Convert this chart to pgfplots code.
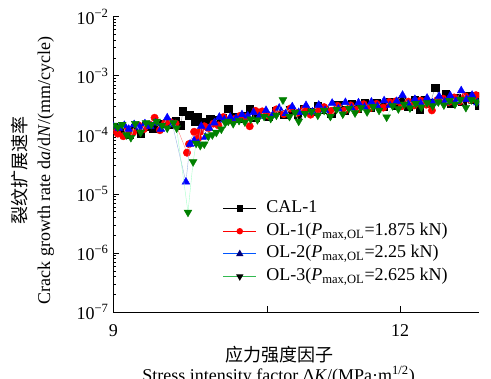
\documentclass[border=0pt]{standalone}
\usepackage{fontspec}
\setmainfont{Liberation Serif}
\newfontfamily\cjk{Noto Sans CJK SC}
\usepackage{pgfplots}
\pgfplotsset{compat=1.18}
\definecolor{cred}{RGB}{255,0,0}
\definecolor{cblue}{RGB}{0,0,255}
\definecolor{cgreen}{RGB}{0,128,0}
\definecolor{lgreen}{RGB}{50,185,80}
\definecolor{lblue}{RGB}{0,85,255}
\definecolor{navy}{RGB}{0,0,120}
\newcommand\fs{\fontsize{13.5pt}{16pt}\selectfont}
\begin{document}
\begin{tikzpicture}
\begin{axis}[
 at={(0,0)}, anchor=south west,
 scale only axis, width=274.3pt, height=221.7pt,
 xmode=log, ymode=log,
 xmin=9, xmax=12.99, ymin=1e-7, ymax=1e-2,
 axis x line*=bottom, axis y line*=left,
 axis line style={line width=0.8pt},
 xtick={9,10.5,12}, xticklabels={9,,12},
 ytick={1e-7,1e-6,1e-5,1e-4,1e-3,1e-2},
 yticklabels={10\textsuperscript{−7},10\textsuperscript{−6},10\textsuperscript{−5},10\textsuperscript{−4},10\textsuperscript{−3},10\textsuperscript{−2}},
 minor ytick={2e-7,3e-7,4e-7,5e-7,6e-7,7e-7,8e-7,9e-7,2e-6,3e-6,4e-6,5e-6,6e-6,7e-6,8e-6,9e-6,2e-5,3e-5,4e-5,5e-5,6e-5,7e-5,8e-5,9e-5,2e-4,3e-4,4e-4,5e-4,6e-4,7e-4,8e-4,9e-4,2e-3,3e-3,4e-3,5e-3,6e-3,7e-3,8e-3,9e-3},
 tick align=inside,
 major tick length=4.5pt, minor tick length=2.2pt,
 tick style={line width=0.6pt, black},
 tick label style={font=\fs},
 xticklabel style={yshift=-6pt},
 clip marker paths=true,
 legend cell align=left,
 legend style={draw=none, fill=none, inner sep=0pt, row sep=0pt, column sep=5pt,
   at={(axis description cs:0.298,0.39)}, anchor=north west,
   font=\fs, nodes={text height=9.5pt, text depth=3.5pt, inner ysep=2pt, inner xsep=2pt}},
 legend image code/.code={\draw[mark repeat=2,mark phase=2,#1] plot coordinates {(0pt,0pt)(12.5pt,0pt)(25pt,0pt)};},
]
\addlegendimage{black, line width=0.8pt, mark=square*, mark size=1.9pt, mark options={fill=black}}
\addlegendentry{CAL-1}
\addlegendimage{cred, line width=0.8pt, mark=*, mark size=2pt, mark options={fill=cred}}
\addlegendentry{OL-1(\textit{P}\textsubscript{max,OL}=1.875 kN)}
\addlegendimage{lblue, line width=0.8pt, mark=triangle*, mark size=2.4pt, mark options={fill=navy, draw=navy}}
\addlegendentry{OL-2(\textit{P}\textsubscript{max,OL}=2.25 kN)}
\addlegendimage{lgreen, line width=0.8pt, mark=triangle*, mark size=2.4pt, mark options={fill=black, draw=black, rotate=180}}
\addlegendentry{OL-3(\textit{P}\textsubscript{max,OL}=2.625 kN)}

\addplot[forget plot, color=black!45, line width=0.3pt, mark=square*, mark size=2.8pt, mark options={solid, fill=black, draw=black}] coordinates {
(9.00,1.35e-4)(9.05,1.25e-4)(9.10,1.15e-4)(9.15,1.00e-4)(9.20,1.30e-4)(9.25,1.05e-4)(9.30,1.40e-4)(9.36,1.30e-4)(9.42,1.45e-4)(9.47,1.55e-4)(9.52,1.50e-4)(9.58,1.70e-4)(9.63,1.45e-4)(9.65,2.50e-4)(9.71,2.15e-4)(9.77,1.70e-4)(9.79,2.00e-4)(9.85,1.65e-4)(9.92,1.85e-4)(9.98,1.80e-4)(10.04,1.95e-4)(10.10,2.80e-4)(10.16,2.00e-4)(10.22,1.90e-4)(10.28,2.10e-4)(10.32,2.75e-4)(10.38,2.00e-4)(10.45,2.35e-4)(10.52,2.05e-4)(10.60,2.55e-4)(10.68,2.20e-4)(10.75,2.65e-4)(10.83,2.25e-4)(10.90,2.70e-4)(10.98,2.45e-4)(11.05,3.15e-4)(11.12,2.65e-4)(11.20,2.30e-4)(11.28,3.25e-4)(11.35,2.60e-4)(11.43,3.30e-4)(11.50,2.75e-4)(11.58,3.45e-4)(11.65,2.95e-4)(11.72,3.50e-4)(11.80,3.05e-4)(11.88,3.60e-4)(11.95,3.10e-4)(12.02,3.75e-4)(12.10,3.00e-4)(12.18,3.90e-4)(12.24,2.70e-4)(12.30,3.85e-4)(12.37,3.45e-4)(12.43,6.30e-4)(12.50,4.10e-4)(12.56,4.90e-4)(12.63,3.40e-4)(12.70,4.30e-4)(12.77,3.70e-4)(12.84,4.60e-4)(12.90,3.90e-4)(12.96,4.50e-4)(12.99,3.20e-4)
};
\addplot[forget plot, color=cred!50, line width=0.3pt, mark=*, mark size=2.8pt, mark options={solid, fill=cred, draw=cred}] coordinates {
(9.00,1.20e-4)(9.04,1.05e-4)(9.09,9.5e-5)(9.13,1.20e-4)(9.18,1.10e-4)(9.23,1.45e-4)(9.28,1.25e-4)(9.33,1.50e-4)(9.38,1.95e-4)(9.43,1.20e-4)(9.48,1.60e-4)(9.53,1.65e-4)(9.58,1.55e-4)(9.69,5.0e-5)(9.71,7.0e-5)(9.76,1.13e-4)(9.80,8.8e-5)(9.82,1.13e-4)(9.86,1.40e-4)(9.90,1.30e-4)(9.95,1.55e-4)(10.00,1.45e-4)(10.05,2.00e-4)(10.10,1.75e-4)(10.16,1.85e-4)(10.22,2.10e-4)(10.28,2.00e-4)(10.32,1.40e-4)(10.38,2.55e-4)(10.45,2.50e-4)(10.52,2.10e-4)(10.60,2.70e-4)(10.68,2.25e-4)(10.75,2.80e-4)(10.82,2.35e-4)(10.90,2.75e-4)(10.97,2.20e-4)(11.05,2.70e-4)(11.12,2.95e-4)(11.20,2.55e-4)(11.27,3.10e-4)(11.35,2.60e-4)(11.42,3.15e-4)(11.50,2.70e-4)(11.57,3.30e-4)(11.65,2.85e-4)(11.72,3.35e-4)(11.80,2.90e-4)(11.87,3.60e-4)(11.95,3.70e-4)(12.02,3.05e-4)(12.10,3.65e-4)(12.17,3.15e-4)(12.25,3.80e-4)(12.32,3.25e-4)(12.39,2.60e-4)(12.46,3.90e-4)(12.53,4.10e-4)(12.60,3.60e-4)(12.67,4.30e-4)(12.74,3.70e-4)(12.81,4.50e-4)(12.88,3.90e-4)(12.95,4.70e-4)
};
\addplot[forget plot, color=cyan!50!blue!40, line width=0.3pt, mark=triangle*, mark size=3.4pt, mark options={solid, fill=cblue, draw=cblue}] coordinates {
(9.00,1.40e-4)(9.05,1.30e-4)(9.10,1.45e-4)(9.14,1.25e-4)(9.19,1.50e-4)(9.24,1.35e-4)(9.29,1.55e-4)(9.34,1.40e-4)(9.39,1.60e-4)(9.44,1.25e-4)(9.50,1.95e-4)(9.55,1.50e-4)(9.68,1.6e-5)(9.72,7.0e-5)(9.76,8.0e-5)(9.80,7.2e-5)(9.83,1.40e-4)(9.87,9.2e-5)(9.91,1.30e-4)(9.96,1.60e-4)(10.01,2.00e-4)(10.06,1.80e-4)(10.12,2.00e-4)(10.18,1.90e-4)(10.24,2.20e-4)(10.30,2.10e-4)(10.36,2.40e-4)(10.42,2.05e-4)(10.49,2.60e-4)(10.56,2.15e-4)(10.63,2.85e-4)(10.70,2.30e-4)(10.77,3.00e-4)(10.84,2.40e-4)(10.92,3.15e-4)(10.99,2.45e-4)(11.06,3.20e-4)(11.13,2.60e-4)(11.21,3.45e-4)(11.28,2.75e-4)(11.36,3.55e-4)(11.43,2.85e-4)(11.51,3.50e-4)(11.58,2.95e-4)(11.66,3.60e-4)(11.73,3.05e-4)(11.81,3.80e-4)(11.88,3.15e-4)(11.96,3.70e-4)(12.03,4.70e-4)(12.10,3.30e-4)(12.18,4.00e-4)(12.25,3.40e-4)(12.33,4.20e-4)(12.40,3.50e-4)(12.48,4.50e-4)(12.55,3.60e-4)(12.62,4.60e-4)(12.69,3.70e-4)(12.76,5.60e-4)(12.83,4.00e-4)(12.90,4.70e-4)(12.97,3.50e-4)
};
\addplot[forget plot, color=green!60!cyan!35, line width=0.3pt, mark=triangle*, mark size=3.4pt, mark options={solid, fill=cgreen, draw=cgreen, rotate=180}] coordinates {
(9.00,1.45e-4)(9.04,1.35e-4)(9.08,1.50e-4)(9.12,1.00e-4)(9.16,9.0e-5)(9.20,1.55e-4)(9.25,1.10e-4)(9.30,1.60e-4)(9.35,1.50e-4)(9.40,1.70e-4)(9.45,1.45e-4)(9.50,1.30e-4)(9.56,1.60e-4)(9.59,1.30e-4)(9.70,4.9e-6)(9.75,3.5e-5)(9.78,7.2e-5)(9.82,6.6e-5)(9.86,7.0e-5)(9.90,9.5e-5)(9.94,1.00e-4)(9.98,1.10e-4)(10.03,1.25e-4)(10.07,1.60e-4)(10.10,1.70e-4)(10.15,1.55e-4)(10.21,1.75e-4)(10.27,1.65e-4)(10.33,1.85e-4)(10.40,1.80e-4)(10.47,2.05e-4)(10.54,1.90e-4)(10.60,2.15e-4)(10.67,3.90e-4)(10.74,2.05e-4)(10.80,2.40e-4)(10.84,1.70e-4)(10.91,2.30e-4)(10.98,2.50e-4)(11.05,2.15e-4)(11.12,2.60e-4)(11.19,2.05e-4)(11.26,2.70e-4)(11.33,2.25e-4)(11.40,2.80e-4)(11.47,2.35e-4)(11.54,2.90e-4)(11.61,2.45e-4)(11.68,3.00e-4)(11.75,2.60e-4)(11.84,2.00e-4)(11.91,3.10e-4)(11.98,2.75e-4)(12.05,3.30e-4)(12.12,2.85e-4)(12.19,3.40e-4)(12.26,2.95e-4)(12.33,3.50e-4)(12.40,3.10e-4)(12.47,3.60e-4)(12.54,3.20e-4)(12.61,3.80e-4)(12.68,3.30e-4)(12.75,4.00e-4)(12.82,2.90e-4)(12.89,3.90e-4)(12.96,3.60e-4)
};
\end{axis}
\node[rotate=90, align=center, font=\fontsize{13.5pt}{18pt}\selectfont] at (-60.6pt,106.3pt) {{\cjk 裂纹扩展速率}\\Crack growth rate d\textit{a}/d\textit{N}/(mm/cycle)};
\node[font=\fontsize{13.5pt}{16pt}\selectfont\cjk] at (124.3pt,-32pt) {应力强度因子};
\node[font=\fs, anchor=base] at (124pt,-52.2pt) {Stress intensity factor Δ\textit{K}/(MPa·m\textsuperscript{1/2})};
\pgfresetboundingbox
\path[use as bounding box] (-85pt,-50pt) rectangle (283.3pt,234.2pt);
\end{tikzpicture}
\end{document}
